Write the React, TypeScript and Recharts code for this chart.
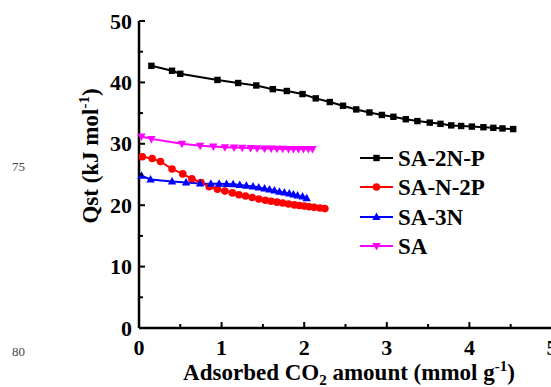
import React from "react";
import { LineChart, Line, XAxis, YAxis, Legend } from "recharts";

const FONT = "'Liberation Serif', 'Times New Roman', serif";
const txt = { fontFamily: FONT, fontWeight: 700 } as const;

const xTicks = [0, 0.5, 1, 1.5, 2, 2.5, 3, 3.5, 4, 4.5, 5];
const yTicks = [0, 5, 10, 15, 20, 25, 30, 35, 40, 45, 50];

const seriesNames = ["SA-2N-P", "SA-N-2P", "SA-3N", "SA"];
const seriesColors = ["#000000", "#ff0000", "#0000ff", "#ff00ff"];

// SA-2N-P
const sa2npX = [0.15, 0.4, 0.5, 0.95, 1.2, 1.42, 1.62, 1.79, 1.98, 2.14, 2.31, 2.47, 2.63, 2.79, 2.94, 3.08, 3.23, 3.37, 3.52, 3.65, 3.78, 3.9, 4.03, 4.17, 4.29, 4.4, 4.53];
const sa2npY = [42.7, 41.9, 41.4, 40.4, 39.9, 39.5, 38.9, 38.6, 38.1, 37.4, 36.8, 36.2, 35.6, 35.1, 34.7, 34.4, 34.0, 33.7, 33.45, 33.25, 33.0, 32.9, 32.8, 32.7, 32.6, 32.5, 32.4];

// SA-N-2P
const san2pX = [0.04, 0.16, 0.26, 0.4, 0.53, 0.64, 0.75, 0.85, 0.95, 1.04, 1.13, 1.21, 1.29, 1.37, 1.45, 1.53, 1.6, 1.67, 1.74, 1.81, 1.88, 1.94, 2.0, 2.06, 2.12, 2.19, 2.25];
const san2pY = [27.9, 27.6, 27.1, 25.9, 25.1, 24.3, 23.7, 23.0, 22.6, 22.3, 22.0, 21.7, 21.5, 21.25, 21.0, 20.8, 20.65, 20.5, 20.35, 20.2, 20.05, 19.95, 19.85, 19.75, 19.65, 19.55, 19.45];

// SA-3N
const sa3nX = [0.03, 0.14, 0.4, 0.57, 0.74, 0.87, 0.97, 1.06, 1.14, 1.22, 1.3, 1.38, 1.45, 1.52, 1.58, 1.64, 1.7, 1.76, 1.82, 1.87, 1.92, 1.98, 2.03];
const sa3nY = [24.8, 24.2, 23.85, 23.7, 23.55, 23.5, 23.5, 23.45, 23.4, 23.3, 23.15, 23.05, 22.9, 22.7, 22.55, 22.4, 22.2, 22.05, 21.9, 21.75, 21.6, 21.4, 21.15];

// SA
const saX = [0.03, 0.15, 0.52, 0.74, 0.9, 1.04, 1.15, 1.25, 1.35, 1.43, 1.52, 1.6, 1.67, 1.74, 1.81, 1.87, 1.93, 1.99, 2.05, 2.1];
const saY = [31.2, 30.8, 30.0, 29.7, 29.55, 29.45, 29.4, 29.35, 29.3, 29.28, 29.25, 29.23, 29.2, 29.18, 29.17, 29.16, 29.15, 29.15, 29.15, 29.15];

const toRows = (xs: number[], ys: number[]) => xs.map((x, i) => ({ x, y: ys[i] }));

const sa2npData = toRows(sa2npX, sa2npY);
const san2pData = toRows(san2pX, san2pY);
const sa3nData = toRows(sa3nX, sa3nY);
const saData = toRows(saX, saY);

function Marker({ kind, cx, cy, color }: { kind: number; cx: number; cy: number; color: string }) {
  if (kind === 0) return <rect x={cx - 3.2} y={cy - 3.2} width={6.4} height={6.4} fill={color} />;
  if (kind === 1) return <circle cx={cx} cy={cy} r={3.8} fill={color} />;
  if (kind === 2)
    return <polygon points={`${cx},${cy - 4.5} ${cx - 4.2},${cy + 3} ${cx + 4.2},${cy + 3}`} fill={color} />;
  return <polygon points={`${cx},${cy + 4.5} ${cx - 4.2},${cy - 3} ${cx + 4.2},${cy - 3}`} fill={color} />;
}

const makeDot = (kind: number) => (props: any) => {
  const { cx, cy, index } = props;
  if (cx == null || cy == null) return <g key={`d-${kind}-${index}`} />;
  return (
    <g key={`d-${kind}-${index}`}>
      <Marker kind={kind} cx={cx} cy={cy} color={seriesColors[kind]} />
    </g>
  );
};

function XTick(props: any) {
  const { x, y, payload } = props;
  const v = payload.value;
  const major = Number.isInteger(v);
  return (
    <g>
      <line x1={x} x2={x} y1={y} y2={y - (major ? 6 : 4)} stroke="#000" strokeWidth={2} />
      {major && (
        <text x={x} y={y + 27} textAnchor="middle" style={{ ...txt, fontSize: 22 }} fill="#000">
          {v}
        </text>
      )}
    </g>
  );
}

function YTick(props: any) {
  const { x, y, payload } = props;
  const v = payload.value;
  const major = v % 10 === 0;
  return (
    <g>
      <line x1={x} x2={x + (major ? 6 : 4)} y1={y} y2={y} stroke="#000" strokeWidth={2} />
      {major && (
        <text x={x - 7} y={y + 7.5} textAnchor="end" style={{ ...txt, fontSize: 22 }} fill="#000">
          {v}
        </text>
      )}
    </g>
  );
}

const XLabel = () => (
  <text x={349} y={380} textAnchor="middle" style={{ ...txt, fontSize: 23 }} fill="#000">
    Adsorbed CO
    <tspan style={{ fontSize: 15 }} dy={5}>2</tspan>
    <tspan dy={-5}> amount (mmol g</tspan>
    <tspan style={{ fontSize: 15 }} dy={-9}>-1</tspan>
    <tspan dy={9}>)</tspan>
  </text>
);

const YLabel = () => (
  <text
    transform="translate(98,156) rotate(-90)"
    x={0}
    y={0}
    textAnchor="middle"
    style={{ ...txt, fontSize: 23 }}
    fill="#000"
  >
    Qst (kJ mol
    <tspan style={{ fontSize: 15 }} dy={-9}>-1</tspan>
    <tspan dy={9}>)</tspan>
  </text>
);

const LegendBox = () => {
  const rowsY = [18, 47, 77, 106];
  return (
    <svg width={190} height={125} style={{ display: "block", overflow: "visible" }}>
      {seriesNames.map((name, i) => (
        <g key={name}>
          <line x1={5} x2={38} y1={rowsY[i]} y2={rowsY[i]} stroke={seriesColors[i]} strokeWidth={2.2} />
          <Marker kind={i} cx={21.5} cy={rowsY[i]} color={seriesColors[i]} />
          <text x={43} y={rowsY[i] + 8} style={{ ...txt, fontSize: 23 }} fill="#000">
            {name}
          </text>
        </g>
      ))}
    </svg>
  );
};

export default function App() {
  return (
    <div
      style={{
        position: "fixed",
        left: 0,
        top: 0,
        width: 551,
        height: 387,
        overflow: "hidden",
        background: "#fff",
      }}
    >
      <span style={{ position: "absolute", left: 12, top: 159, fontFamily: FONT, fontSize: 13, color: "#444" }}>75</span>
      <span style={{ position: "absolute", left: 12, top: 344, fontFamily: FONT, fontSize: 13, color: "#444" }}>80</span>
      <LineChart width={560} height={387} margin={{ top: 21, right: 8, bottom: 0, left: 0 }}>
        <XAxis
          dataKey="x"
          type="number"
          domain={[0, 5]}
          ticks={xTicks}
          interval={0}
          height={59}
          tickSize={0}
          tickMargin={0}
          tickLine={false}
          tick={<XTick />}
          axisLine={{ stroke: "#000", strokeWidth: 2.5 }}
          label={<XLabel />}
        />
        <XAxis
          xAxisId="top"
          orientation="top"
          type="number"
          domain={[0, 5]}
          height={0}
          tick={false}
          tickLine={false}
          axisLine={{ stroke: "#000", strokeWidth: 2.5 }}
        />
        <YAxis
          type="number"
          domain={[0, 50]}
          ticks={yTicks}
          interval={0}
          width={139}
          tickSize={0}
          tickMargin={0}
          tickLine={false}
          tick={<YTick />}
          axisLine={{ stroke: "#000", strokeWidth: 2.5 }}
          label={<YLabel />}
        />
        <Legend
          layout="vertical"
          align="center"
          verticalAlign="middle"
          content={<LegendBox />}
          wrapperStyle={{ left: 355, top: 140, width: 190, height: 125 }}
        />
        <Line data={sa2npData} dataKey="y" name={seriesNames[0]} type="linear" stroke={seriesColors[0]} strokeWidth={2} dot={makeDot(0)} isAnimationActive={false} />
        <Line data={san2pData} dataKey="y" name={seriesNames[1]} type="linear" stroke={seriesColors[1]} strokeWidth={2} dot={makeDot(1)} isAnimationActive={false} />
        <Line data={sa3nData} dataKey="y" name={seriesNames[2]} type="linear" stroke={seriesColors[2]} strokeWidth={2} dot={makeDot(2)} isAnimationActive={false} />
        <Line data={saData} dataKey="y" name={seriesNames[3]} type="linear" stroke={seriesColors[3]} strokeWidth={2} dot={makeDot(3)} isAnimationActive={false} />
      </LineChart>
    </div>
  );
}
